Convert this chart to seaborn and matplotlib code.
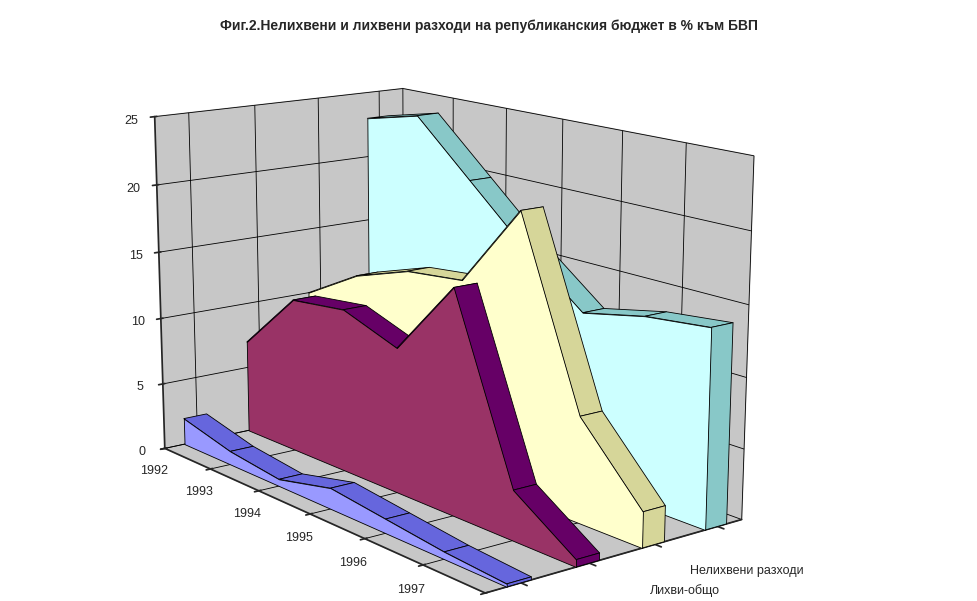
import matplotlib
matplotlib.use("Agg")
import matplotlib.pyplot as plt
import numpy as np
import seaborn as sns
from mpl_toolkits.mplot3d.art3d import Poly3DCollection

sns.set_theme(style="white")
plt.rcParams["font.family"] = ["Liberation Sans", "DejaVu Sans"]

years = ["1992", "1993", "1994", "1995", "1996", "1997", "1998"]
series = ["Лихви по външни заеми", "Лихви по вътр.заеми", "Лихви-общо", "Нелихвени разходи"]
ext_int = [2.0, 1.0, 0.5, 1.5, 1.0, 0.5, 0.2]
dom_int = [7.0, 11.5, 12.0, 10.5, 16.0, 3.5, 0.5]
total_int = [10.0, 12.5, 14.0, 14.5, 20.5, 7.5, 2.5]
nonint = [23.0, 24.0, 20.0, 16.0, 12.5, 13.5, 14.0]
values = [ext_int, dom_int, total_int, nonint]

front_cols = ["#9999ff", "#993366", "#ffffcc", "#ccffff"]
top_cols = ["#6666dd", "#660066", "#d6d699", "#88c8c8"]

fig = plt.figure(figsize=(9.77, 6.01), dpi=100)
ax = fig.add_axes([-0.12, -0.12, 1.12, 1.17], projection="3d")
ax.set_box_aspect((2.2, 1.3, 1.45))

x = np.arange(len(years))
thick = 0.35
for i in range(len(series) - 1, -1, -1):
    v = np.array(values[i])
    y0 = i
    y1 = i + thick
    front = [(xx, y0, 0) for xx in x] + [(xx, y0, vv) for xx, vv in zip(x[::-1], v[::-1])]
    tops = []
    for k in range(len(x) - 1):
        tops.append([(x[k], y0, v[k]), (x[k + 1], y0, v[k + 1]),
                     (x[k + 1], y1, v[k + 1]), (x[k], y1, v[k])])
    side = [(x[-1], y0, 0), (x[-1], y1, 0), (x[-1], y1, v[-1]), (x[-1], y0, v[-1])]
    ax.add_collection3d(Poly3DCollection(tops + [side], facecolor=top_cols[i], edgecolor="black", linewidth=0.6))
    ax.add_collection3d(Poly3DCollection([front], facecolor=front_cols[i], edgecolor="black", linewidth=0.6))

ax.set_xlim(0, 6)
ax.set_ylim(-0.3, 3.6)
ax.set_zlim(0, 25)
ax.set_xticks(x)
ax.set_xticklabels(years, fontsize=9)
ax.set_yticks(np.arange(len(series)) + 0.2)
ax.set_yticklabels(series, fontsize=9)
ax.set_zticks([0, 5, 10, 15, 20, 25])
ax.set_zticklabels(["0", "5", "10", "15", "20", "25"], fontsize=9)
ax.zaxis.set_ticks_position("lower")
ax.tick_params(axis="y", pad=12)
for a in (ax.xaxis, ax.yaxis, ax.zaxis):
    a.set_pane_color((0.78, 0.78, 0.78, 1.0))
    a._axinfo["grid"]["color"] = "black"
    a._axinfo["grid"]["linewidth"] = 0.6
ax.view_init(elev=14, azim=-38)
ax.set_proj_type("persp", focal_length=0.6)

fig.text(0.5, 0.95, "Фиг.2.Нелихвени и лихвени разходи на републиканския бюджет в % към БВП",
         ha="center", fontsize=10, fontweight="bold")
fig.savefig("out.png", dpi=100)
